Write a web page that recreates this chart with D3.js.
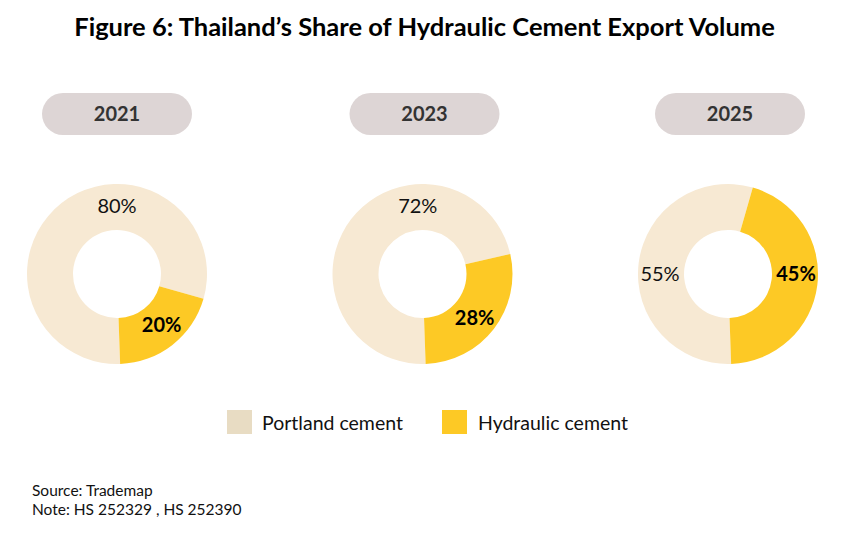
<!DOCTYPE html>
<html><head><meta charset="utf-8">
<script src="https://cdn.jsdelivr.net/npm/d3@7"></script>
<style>body{margin:0;background:#fff}svg{display:block}</style>
</head><body><svg id="c" width="855" height="542"></svg>
<script>
const years = ["2021", "2023", "2025"];
const series = ["Portland cement", "Hydraulic cement"];
const portland = [80, 72, 55];
const hydraulic = [20, 28, 45];
const colors = ["#f7e9d3", "#fdc925"];
const legendColors = ["#e8dcc3", "#fdc925"];

const FONT = "Lato, 'Open Sans', sans-serif";
const svg = d3.select("#c");
const W = 855;

svg.append("text").attr("x", W/2 - 3).attr("y", 36).attr("text-anchor", "middle")
  .attr("font-family", FONT).attr("font-weight", 700).attr("font-size", 25.5).attr("fill", "#000")
  .text("Figure 6: Thailand’s Share of Hydraulic Cement Export Volume");

const x = d3.scalePoint().domain(years).range([117, 728]);
const cy = 274, rOut = 90, rIn = 44, rLab = 68;
const pie = d3.pie().sort(null).startAngle(178 * Math.PI/180).endAngle((178 + 360) * Math.PI/180);
const arc = d3.arc().innerRadius(rIn).outerRadius(rOut);
// label angles (degrees, clockwise from top) for [portland, hydraulic]
const labelAngles = [[0, 139], [-4, 130], [270, 90]];

years.forEach((y, i) => {
  const cx = x(y);
  svg.append("rect").attr("x", cx - 75 + (i ? 2 : 0)).attr("y", 93).attr("width", 150).attr("height", 42)
    .attr("rx", 21).attr("fill", "#ddd5d5");
  svg.append("text").attr("x", cx + (i ? 2 : 0)).attr("y", 121).attr("text-anchor", "middle")
    .attr("font-family", FONT).attr("font-weight", 700).attr("font-size", 20).attr("fill", "#333")
    .text(y);
  const g = svg.append("g").attr("transform", `translate(${cx},${cy})`);
  const vals = [portland[i], hydraulic[i]];
  g.selectAll("path").data(pie(vals)).join("path").attr("d", arc).attr("fill", (d, j) => colors[j]);
  vals.forEach((v, j) => {
    const a = labelAngles[i][j] * Math.PI/180;
    g.append("text").attr("x", rLab * Math.sin(a)).attr("y", -rLab * Math.cos(a)).attr("dy", "0.35em")
      .attr("text-anchor", "middle").attr("font-family", FONT)
      .attr("font-weight", j ? 700 : 400).attr("font-size", 20).attr("fill", j ? "#000" : "#111")
      .text(v + "%");
  });
});

const lg = [{x: 227, tx: 262}, {x: 442, tx: 478}];
series.forEach((s, j) => {
  svg.append("rect").attr("x", lg[j].x).attr("y", 410).attr("width", 25).attr("height", 24).attr("fill", legendColors[j]);
  svg.append("text").attr("x", lg[j].tx).attr("y", 430).attr("font-family", FONT).attr("font-size", 19.5)
    .attr("fill", "#111").text(s);
});

svg.append("text").attr("x", 32).attr("y", 496).attr("font-family", FONT).attr("font-size", 15.5).attr("fill", "#111").text("Source: Trademap");
svg.append("text").attr("x", 32).attr("y", 515).attr("font-family", FONT).attr("font-size", 15.5).attr("fill", "#111").text("Note: HS 252329 , HS 252390");
</script></body></html>
